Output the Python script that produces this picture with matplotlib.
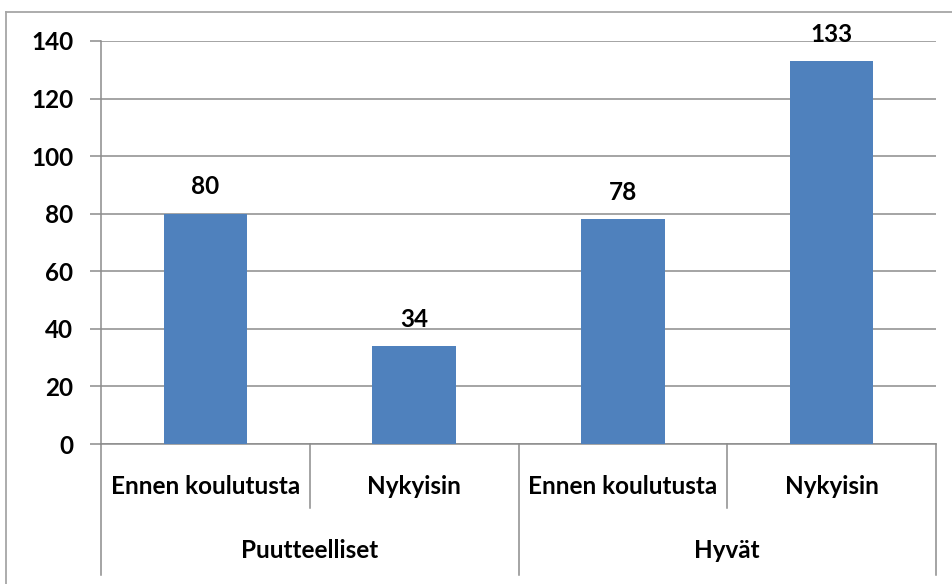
import matplotlib
matplotlib.use("Agg")
import matplotlib.pyplot as plt
from matplotlib.lines import Line2D

plt.rcParams['font.family'] = ['Lato', 'DejaVu Sans']

subcats = ["Ennen koulutusta", "Nykyisin", "Ennen koulutusta", "Nykyisin"]
groups = ["Puutteelliset", "Hyvät"]
values = [80, 34, 78, 133]
yticks = [0, 20, 40, 60, 80, 100, 120, 140]

W, H = 952, 584
FS = 17.5
fig = plt.figure(figsize=(W / 100, H / 100), dpi=100)
fig.patch.set_facecolor("white")

# outer chart frame (top/left visible)
fig.add_artist(Line2D([6 / W, 6 / W], [0, 1 - 12 / H], transform=fig.transFigure, color="#a6a6a6", lw=1.3))
fig.add_artist(Line2D([6 / W, 1], [1 - 12 / H, 1 - 12 / H], transform=fig.transFigure, color="#a6a6a6", lw=1.3))

left, right = 101 / W, 936 / W
bottom, top = 1 - 444 / H, 1 - 41 / H
ax = fig.add_axes([left, bottom, right - left, top - bottom])

x = list(range(len(values)))
ax.bar(x, values, width=0.4, color="#4F81BD", zorder=3)
ax.set_xlim(-0.5, len(values) - 0.5)
ax.set_ylim(0, 140)
ax.set_yticks(yticks)
ax.set_yticklabels([str(t) for t in yticks], fontsize=FS, fontweight="bold")
ax.yaxis.grid(True, color="#8c8c8c", lw=1.1, zorder=0)
ax.tick_params(axis="y", length=8, width=1.1, color="#8c8c8c", pad=12)
ax.set_xticks([])
for s in ["top", "right"]:
    ax.spines[s].set_visible(False)
ax.spines["left"].set_color("#8c8c8c")
ax.spines["bottom"].set_color("#8c8c8c")
ax.spines["left"].set_linewidth(1.1)
ax.spines["bottom"].set_linewidth(1.1)

for xi, v in zip(x, values):
    ax.annotate(str(v), (xi, v), xytext=(0, 11), textcoords="offset points",
                ha="center", va="bottom", fontsize=FS, fontweight="bold")

# hierarchical category axis
trans = ax.get_xaxis_transform()
ax_h = 444 - 41
def yf(py):
    return (444 - py) / ax_h

inner_bottom = yf(508)
outer_bottom = yf(575)
for b in [-0.5, 1.5, 3.5]:
    ax.add_line(Line2D([b, b], [0, outer_bottom], transform=trans, color="#8c8c8c", lw=1.1, clip_on=False))
for b in [0.5, 2.5]:
    ax.add_line(Line2D([b, b], [0, inner_bottom], transform=trans, color="#8c8c8c", lw=1.1, clip_on=False))

for xi, lab in zip(x, subcats):
    ax.text(xi, yf(487), lab, transform=trans, ha="center", va="center",
            fontsize=FS, fontweight="bold", clip_on=False)
for gi, g in enumerate(groups):
    ax.text(gi * 2 + 0.5, yf(550), g, transform=trans, ha="center", va="center",
            fontsize=FS, fontweight="bold", clip_on=False)

fig.savefig("out.png", dpi=100, facecolor="white")
